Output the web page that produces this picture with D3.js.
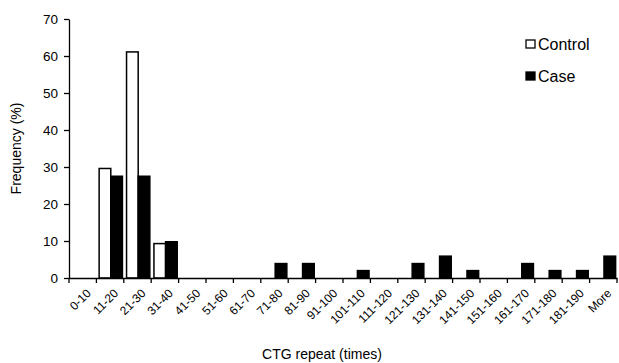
<!DOCTYPE html>
<html>
<head>
<meta charset="utf-8">
<script src="https://cdn.jsdelivr.net/npm/d3@7"></script>
<style>
  body { margin: 0; background: #fff; }
  svg { font-family: "Liberation Sans", Arial, sans-serif; }
</style>
</head>
<body>
<svg id="chart" width="619" height="363"></svg>
<script>
const categories = ["0-10", "11-20", "21-30", "31-40", "41-50", "51-60", "61-70", "71-80", "81-90", "91-100",
  "101-110", "111-120", "121-130", "131-140", "141-150", "151-160", "161-170", "171-180", "181-190", "More"];
const controlValues = [0, 29.6, 61.1, 9.3, 0, 0, 0, 0, 0, 0, 0, 0, 0, 0, 0, 0, 0, 0, 0, 0];
const caseValues = [0, 27.5, 27.5, 9.8, 0, 0, 0, 3.9, 3.9, 0, 2.0, 0, 3.9, 5.9, 2.0, 0, 3.9, 2.0, 2.0, 5.9];
const seriesNames = ["Control", "Case"];
const yTicks = [0, 10, 20, 30, 40, 50, 60, 70];

const svg = d3.select("#chart");
const margin = { top: 19, right: 2, bottom: 85, left: 69 };
const width = +svg.attr("width") - margin.left - margin.right;
const height = +svg.attr("height") - margin.top - margin.bottom;
const g = svg.append("g").attr("transform", "translate(" + margin.left + "," + margin.top + ")");

const x = d3.scaleBand().domain(categories).range([0, width]).paddingInner(0).paddingOuter(0);
const xSub = d3.scaleBand().domain(seriesNames).range([x.bandwidth() * 0.1, x.bandwidth() * 0.95]);
const y = d3.scaleLinear().domain([0, 70]).range([height, 0]);

const data = categories.map((c, i) => ({ cat: c, Control: controlValues[i], Case: caseValues[i] }));

// bars
const groups = g.selectAll(".grp").data(data).enter().append("g")
  .attr("transform", d => "translate(" + x(d.cat) + ",0)");
groups.selectAll("rect")
  .data(d => seriesNames.map(s => ({ s: s, v: d[s] })).filter(e => e.v > 0))
  .enter().append("rect")
  .attr("x", e => xSub(e.s))
  .attr("width", xSub.bandwidth())
  .attr("y", e => y(e.v))
  .attr("height", e => height - y(e.v))
  .attr("fill", e => e.s === "Control" ? "#fff" : "#000")
  .attr("stroke", "#000")
  .attr("stroke-width", 1.5);

// y axis
const yAxis = g.append("g")
  .call(d3.axisLeft(y).tickValues(yTicks).tickSize(5).tickSizeOuter(0).tickPadding(6));
yAxis.selectAll("text").style("font-size", "13.5px").attr("fill", "#000");
yAxis.selectAll("line, path").attr("stroke", "#000").attr("stroke-width", 1.3);

// x axis
const xAxis = g.append("g").attr("transform", "translate(0," + height + ")")
  .call(d3.axisBottom(x).tickSize(0).tickFormat(""));
xAxis.select("path").attr("stroke", "#000").attr("stroke-width", 1.3);
const edges = d3.range(categories.length + 1).map(i => i * x.step());
g.append("g").selectAll("line").data(edges).enter().append("line")
  .attr("x1", d => d).attr("x2", d => d)
  .attr("y1", height).attr("y2", height + 5)
  .attr("stroke", "#000").attr("stroke-width", 1.3);
g.append("g").selectAll("text").data(categories).enter().append("text")
  .attr("transform", d => "translate(" + (x(d) + x.bandwidth() / 2 + 3) + "," + (height + 10) + ") rotate(-45)")
  .attr("text-anchor", "end")
  .attr("dy", "0.7em")
  .style("font-size", "12px")
  .text(d => d);

// axis titles
svg.append("text")
  .attr("transform", "translate(21," + (margin.top + height / 2) + ") rotate(-90)")
  .attr("text-anchor", "middle")
  .style("font-size", "14px")
  .text("Frequency (%)");
svg.append("text")
  .attr("x", 322).attr("y", 359)
  .attr("text-anchor", "middle")
  .style("font-size", "14px")
  .text("CTG repeat (times)");

// legend
const legend = svg.append("g").attr("transform", "translate(526,40)");
seriesNames.forEach((s, i) => {
  const row = legend.append("g").attr("transform", "translate(0," + i * 32 + ")");
  row.append("rect").attr("x", 0).attr("y", 0).attr("width", 9).attr("height", 8)
    .attr("fill", s === "Control" ? "#fff" : "#000").attr("stroke", "#000").attr("stroke-width", 1.3);
  row.append("text").attr("x", 12).attr("y", 10).style("font-size", "16px").text(s);
});
</script>
</body>
</html>
